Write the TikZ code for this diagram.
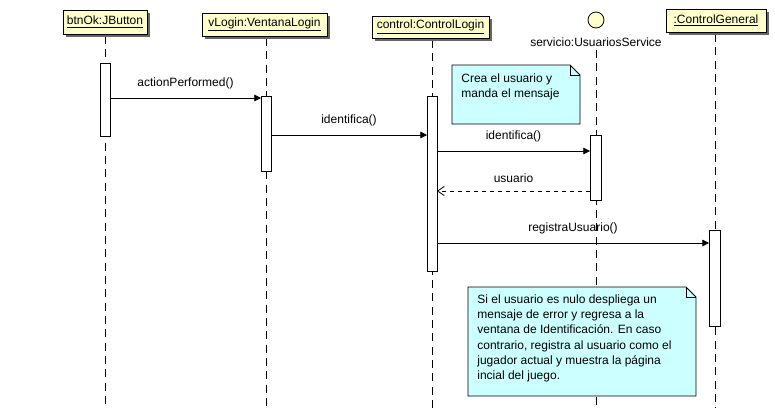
\documentclass[tikz,border=0pt]{standalone}
\usepackage{fontspec}
\setmainfont{Liberation Sans}
\usetikzlibrary{arrows.meta}
\tikzset{every picture/.style={line width=0.6pt}}
\tikzset{
  head/.style={draw,fill={rgb,255:red,255;green,255;blue,204},inner sep=2pt,
    drop shadow/.style={}},
  act/.style={draw,fill=white},
  msg/.style={-{Triangle[length=5pt,width=5pt]}},
  ret/.style={dashed,-{Straight Barb[length=5pt,width=7pt]}},
  life/.style={dash pattern=on 6pt off 4pt},
  note/.style={draw,fill={rgb,255:red,204;green,255;blue,255}},
}
\begin{document}
\begin{tikzpicture}[x=0.75pt,y=0.75pt,yscale=-1,xscale=1,font=\fontsize{9}{11.5}\selectfont]
\useasboundingbox (0,0) rectangle (775,408);

%Lifelines
\foreach \x/\t in {105/36,266/38,432/40,596/50,715/34}
  \draw[life] (\x,\t) -- (\x,408);

%Heads with shadow
\foreach \a/\b/\c/\d/\n/\txt in {63/147/10/34/hBtn/btnOk:JButton,202/327/13/36/hLogin/vLogin:VentanaLogin,372/489/16/38/hCtl/control:ControlLogin,666/766/9/32/hGen/:ControlGeneral}{
  \fill[black!60] (\a+3,\c+3) rectangle (\b+3,\d+3);
  \draw[fill={rgb,255:red,255;green,255;blue,204}] (\a,\c) rectangle (\b,\d);
  \node (\n) at ({(\a+\b)/2},{(\c+\d)/2}) {\underline{\txt}};
}
%Entity
\draw[fill={rgb,255:red,255;green,255;blue,204}] (596,20) circle (8);
\node (hSrv) at (596,42) {servicio:UsuariosService};

%Activations
\draw[act] (100,63) rectangle (110,136);
\draw[act] (261,96) rectangle (271,171);
\draw[act] (427,96) rectangle (437,271);
\draw[act] (590,135) rectangle (601,200);
\draw[act] (709,230) rectangle (720,326);

%Notes
\draw[note] (452,65) -- (570,65) -- (580,75) -- (580,124) -- (452,124) -- cycle;
\draw (570,65) -- (570,75) -- (580,75);
\node[anchor=north west,align=left,inner sep=0pt] (nota1) at (461,73) {Crea el usuario y\\manda el mensaje};
\draw[note] (468,287) -- (686,287) -- (696,297) -- (696,396) -- (468,396) -- cycle;
\draw (686,287) -- (686,297) -- (696,297);
\node[anchor=north west,align=left,inner sep=0pt] (nota2) at (477,294) {Si el usuario es nulo despliega un\\mensaje de error y regresa a la\\ventana de Identificación. En caso\\contrario, registra al usuario como el\\jugador actual y muestra la página\\incial del juego.};

%Messages
\draw[msg] (110,98) -- node[above=3pt] {actionPerformed()} (261,98);
\draw[msg] (271,135) -- node[above=3pt] {identifica()} (427,135);
\draw[msg] (437,151) -- node[above=3pt] {identifica()} (590,151);
\draw[ret] (590,191) -- node[above=3pt] {usuario} (437,191);
\draw[msg] (437,243) -- node[above=3pt] {registraUsuario()} (709,243);
\end{tikzpicture}
\end{document}
